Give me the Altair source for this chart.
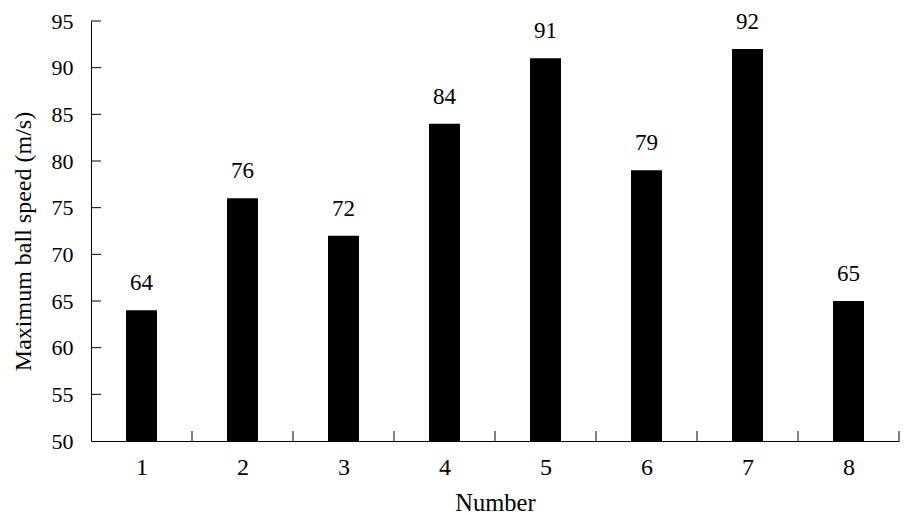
import altair as alt
import pandas as pd

numbers = [1, 2, 3, 4, 5, 6, 7, 8]
speeds = [64, 76, 72, 84, 91, 79, 92, 65]
y_tick_values = [50, 55, 60, 65, 70, 75, 80, 85, 90, 95]
x_boundaries = [1.5, 2.5, 3.5, 4.5, 5.5, 6.5, 7.5, 8.5]

FONT = "Liberation Serif"
W, H = 808, 420

df = pd.DataFrame({"number": numbers, "speed": speeds})
df_yt = pd.DataFrame({"speed": y_tick_values[1:]})
df_xt = pd.DataFrame({"number": x_boundaries})

xscale = alt.Scale(domain=[0.5, 8.5], nice=False, zero=False, padding=0)
yscale = alt.Scale(domain=[50, 95], nice=False, zero=False, padding=0)
xaxis = alt.Axis(title="Number", values=numbers, ticks=False, tickSize=0,
                 labelPadding=33, labelBaseline="alphabetic", grid=False,
                 format="d", labelFontSize=24, titleFontSize=24.5,
                 titleBaseline="alphabetic", titleX=W / 2, titleY=69,
                 titleAlign="center")
yaxis = alt.Axis(title="Maximum ball speed (m/s)", values=y_tick_values,
                 ticks=False, tickSize=0, labelPadding=18, grid=False,
                 labelFontSize=22, titleFontSize=24, titleAngle=270,
                 titleBaseline="alphabetic", titleX=-61, titleY=220,
                 titleAlign="center")

bars = alt.Chart(df).mark_bar(size=31, color="black").encode(
    x=alt.X("number:Q", scale=xscale, axis=xaxis),
    y=alt.Y("speed:Q", scale=yscale, axis=yaxis),
    y2=alt.datum(50),
)

labels = alt.Chart(df).mark_text(dy=-20, baseline="alphabetic", fontSize=23,
                                 font=FONT, color="black").encode(
    x=alt.X("number:Q", scale=xscale, axis=xaxis),
    y=alt.Y("speed:Q", scale=yscale, axis=yaxis),
    text=alt.Text("speed:Q"),
)

yticks = alt.Chart(df_yt).mark_rule(color="black", strokeWidth=1).encode(
    y=alt.Y("speed:Q", scale=yscale, axis=yaxis),
    x=alt.value(0),
    x2=alt.value(10),
)

xticks = alt.Chart(df_xt).mark_rule(color="black", strokeWidth=1).encode(
    x=alt.X("number:Q", scale=xscale, axis=xaxis),
    y=alt.value(H),
    y2=alt.value(H - 10),
)

chart = alt.layer(bars, labels, yticks, xticks).properties(
    width=W, height=H,
    autosize=alt.AutoSizeParams(type="none"),
    padding={"left": 83, "top": 13, "right": 4, "bottom": 76},
).configure_view(stroke=None).configure_axis(
    labelFont=FONT, titleFont=FONT,
    labelColor="black", titleColor="black", domainColor="black",
    domainWidth=1, titleFontWeight="normal", labelFontWeight="normal",
)

chart.save("out.html", embed_options={"renderer": "svg", "actions": False})
